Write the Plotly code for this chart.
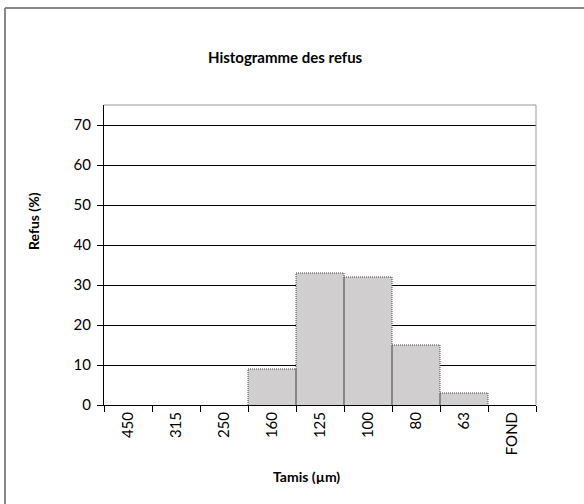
import plotly.graph_objects as go

categories = ["450", "315", "250", "160", "125", "100", "80", "63", "FOND"]
refus = [0, 0, 0, 9, 33, 32, 15, 3, 0]
y_ticks = [0, 10, 20, 30, 40, 50, 60, 70]

W, H = 584, 504
L, R, T, B = 104, 536, 105, 405

def px(x):
    return (x - L) / (R - L)

def py(y):
    return (B - y) / (B - T)

FONT = "Lato"

fig = go.Figure()
fig.add_trace(go.Bar(
    x=categories, y=refus, width=1.0,
    marker=dict(color="#d0cece", line=dict(color="#d0cece", width=0)),
    hoverinfo="x+y", showlegend=False,
))

# dotted outlines of bars built from the data
ox, oy = [], []
for i, v in enumerate(refus):
    if v > 0:
        ox += [i - 0.5, i - 0.5, i + 0.5, i + 0.5, None]
        oy += [0, v, v, 0, None]
fig.add_trace(go.Scatter(
    x=ox, y=oy, mode="lines", xaxis="x2",
    line=dict(color="#404040", width=1, dash="1px,1px"),
    hoverinfo="skip", showlegend=False,
))

fig.update_layout(
    width=W, height=H,
    margin=dict(l=L, r=W - R, t=T, b=H - B),
    paper_bgcolor="white", plot_bgcolor="white",
    font=dict(family=FONT, size=15, color="black"),
    bargap=0,
    xaxis=dict(
        type="category", categoryorder="array", categoryarray=categories,
        tickson="boundaries", ticks="outside", ticklen=6, tickcolor="black",
        tickangle=-90, showline=True, linecolor="black", linewidth=1,
        showgrid=False, tickfont=dict(size=15, family=FONT),
        range=[-0.5, len(categories) - 0.5],
    ),
    xaxis2=dict(
        overlaying="x", range=[-0.5, len(categories) - 0.5],
        visible=False, showgrid=False,
    ),
    yaxis=dict(
        range=[0, 75], tickvals=y_ticks, ticks="outside", ticklen=6,
        tickcolor="black", showline=True, linecolor="black", linewidth=1,
        showgrid=True, gridcolor="black", gridwidth=1, zeroline=False,
        tickfont=dict(size=15, family=FONT), ticklabelstandoff=3,
    ),
    shapes=[
        # outer chart frame: only left and top edges fall inside the picture
        dict(type="line", xref="paper", yref="paper",
             x0=px(5), x1=px(5), y0=py(8), y1=py(510),
             line=dict(color="#888888", width=2), layer="below"),
        dict(type="line", xref="paper", yref="paper",
             x0=px(5), x1=px(590), y0=py(8), y1=py(8),
             line=dict(color="#888888", width=2), layer="below"),
        dict(type="line", xref="paper", yref="paper",
             x0=0, x1=1, y0=1, y1=1, line=dict(color="#999999", width=1)),
        dict(type="line", xref="paper", yref="paper",
             x0=1, x1=1, y0=0, y1=1, line=dict(color="#999999", width=1)),
    ],
    annotations=[
        dict(text="<b>Histogramme des refus</b>", xref="paper", yref="paper",
             x=px(285), y=py(57), showarrow=False,
             font=dict(size=15, family=FONT), xanchor="center", yanchor="middle"),
        dict(text="<b>Tamis (µm)</b>", xref="paper", yref="paper",
             x=px(306), y=py(476), showarrow=False,
             font=dict(size=14, family=FONT), xanchor="center", yanchor="middle"),
        dict(text="<b>Refus (%)</b>", xref="paper", yref="paper",
             x=px(33), y=py(221), showarrow=False, textangle=-90,
             font=dict(size=14, family=FONT), xanchor="center", yanchor="middle"),
    ],
)

fig.write_html(
    "out.html",
    config={"displayModeBar": False},
    post_script="document.body.style.margin='0';document.body.style.overflow='hidden';",
)
